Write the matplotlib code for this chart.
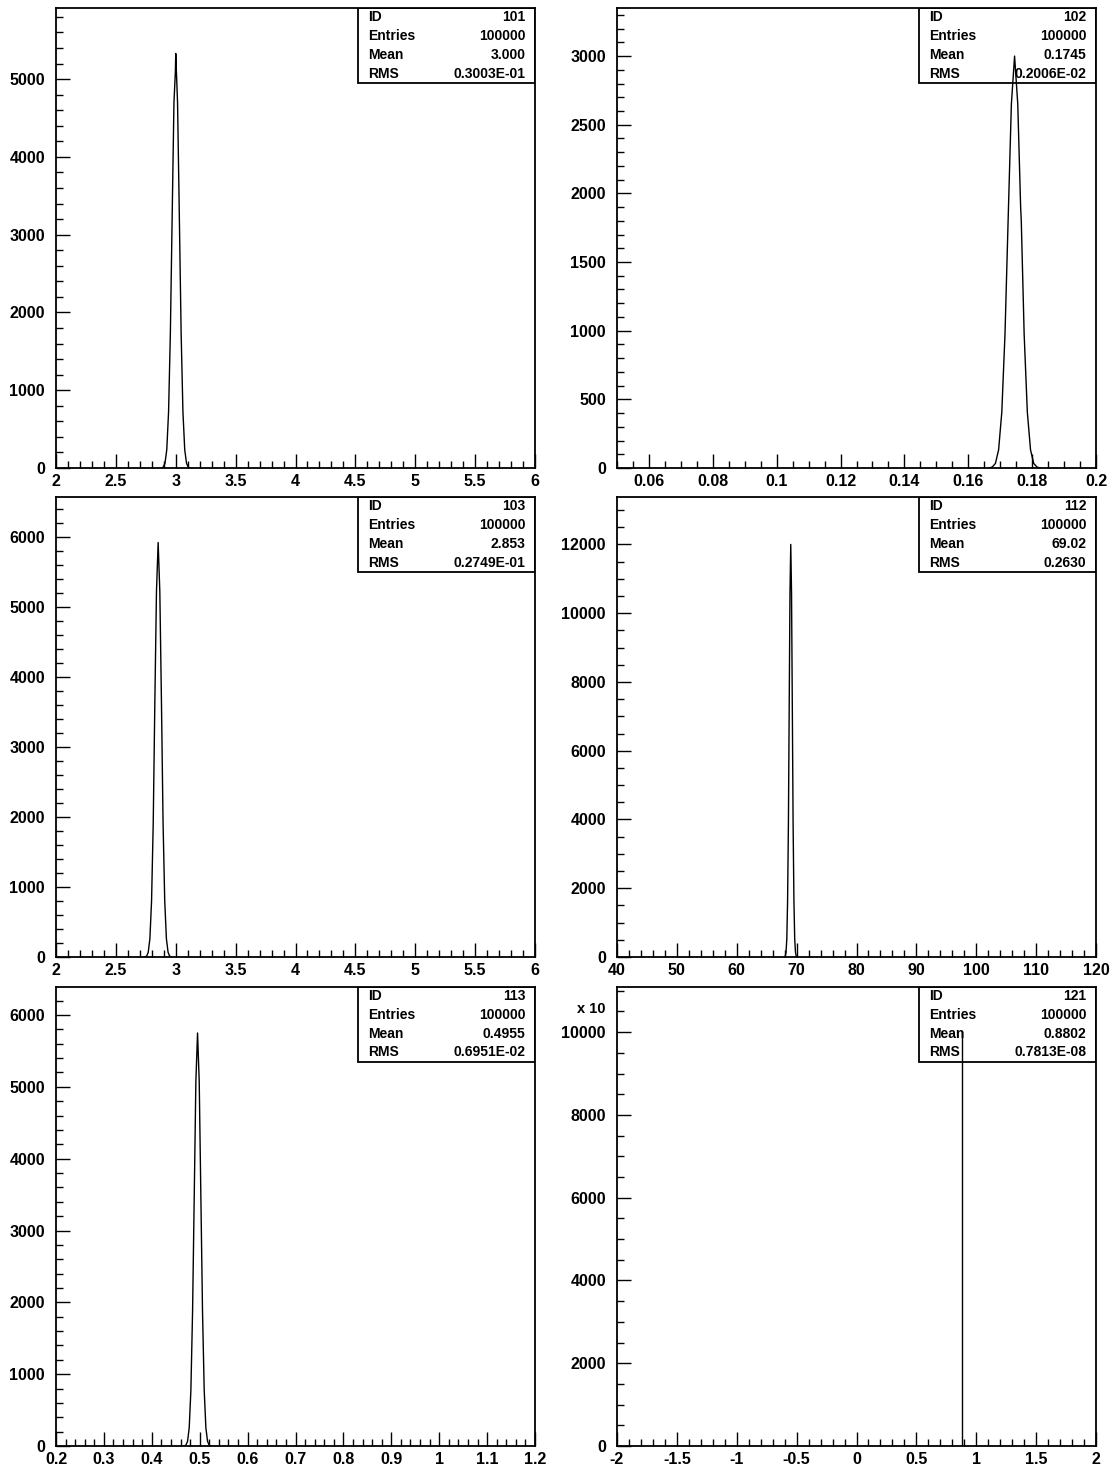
import numpy as np
import matplotlib
matplotlib.use("Agg")
import matplotlib.pyplot as plt
from matplotlib.ticker import MultipleLocator, FuncFormatter
from matplotlib.patches import Rectangle

plt.rcParams['font.family'] = ['Liberation Sans', 'DejaVu Sans']
plt.rcParams['font.weight'] = 'bold'

# ---- histogram contours (bin position, contents) ----
h101_x = [2.880, 2.895, 2.910, 2.925, 2.940, 2.955, 2.970, 2.985, 2.997, 3.000,
          3.003, 3.015, 3.030, 3.045, 3.060, 3.075, 3.090, 3.105, 3.120]
h101_y = [0, 10, 60, 235, 720, 1730, 3230, 4700, 5100, 5330,
          5200, 4700, 3230, 1730, 720, 235, 60, 10, 0]

h102_x = [0.1665, 0.1675, 0.1685, 0.1695, 0.1705, 0.1715, 0.1725, 0.1735, 0.1745,
          0.1755, 0.1764, 0.1766, 0.1775, 0.1785, 0.1795, 0.1805, 0.1815, 0.1825]
h102_y = [0, 7, 33, 132, 406, 974, 1820, 2650, 3000,
          2650, 1900, 1800, 974, 406, 132, 33, 7, 0]

h103_x = [2.743, 2.757, 2.770, 2.784, 2.798, 2.812, 2.825, 2.839, 2.853,
          2.867, 2.881, 2.894, 2.908, 2.922, 2.936, 2.949, 2.963]
h103_y = [0, 13, 66, 260, 800, 1920, 3590, 5220, 5920,
          5220, 3590, 1920, 800, 260, 66, 13, 0]

h112_x = [67.97, 68.10, 68.23, 68.36, 68.49, 68.63, 68.76, 68.89, 69.02,
          69.15, 69.28, 69.41, 69.55, 69.68, 69.81, 69.94, 70.07]
h112_y = [0, 26, 133, 527, 1620, 3900, 7280, 10590, 12000,
          10590, 7280, 3900, 1620, 527, 133, 26, 0]

h113_x = [0.4677, 0.4712, 0.4746, 0.4781, 0.4816, 0.4851, 0.4886, 0.4920, 0.4955,
          0.4990, 0.5024, 0.5059, 0.5094, 0.5129, 0.5164, 0.5198, 0.5233]
h113_y = [0, 13, 64, 252, 778, 1867, 3487, 5074, 5750,
          5074, 3487, 1867, 778, 252, 64, 13, 0]

h121_x = [0.8802, 0.8802]
h121_y = [0, 100000]
h121_scale = 10

# ---- statistics boxes ----
ids = ['101', '102', '103', '112', '113', '121']
entries = ['100000'] * 6
means = ['3.000', '0.1745', '2.853', '69.02', '0.4955', '0.8802']
rmss = ['0.3003E-01', '0.2006E-02', '0.2749E-01', '0.2630', '0.6951E-02', '0.7813E-08']

fig = plt.figure(figsize=(11.11, 14.68), dpi=100)
W, H = 1111.0, 1468.0

cols = [(56, 479), (617, 479)]
rows = [(8, 468), (497, 957), (987, 1446)]

# x range, x major, x minor, y top, y major, y minor
specs = [
    (2, 6, 0.5, 0.1, 5915, 1000, 200),
    (0.05, 0.2, 0.02, 0.005, 3350, 500, 100),
    (2, 6, 0.5, 0.1, 6570, 1000, 200),
    (40, 120, 10, 2, 13380, 2000, 500),
    (0.2, 1.2, 0.1, 0.02, 6390, 1000, 200),
    (-2, 2, 0.5, 0.1, 11090, 2000, 500),
]
data = [(h101_x, h101_y), (h102_x, h102_y), (h103_x, h103_y),
        (h112_x, h112_y), (h113_x, h113_y),
        (h121_x, [v / h121_scale for v in h121_y])]

fmt = FuncFormatter(lambda v, p: '%g' % round(v, 6))

for i in range(6):
    r, c = divmod(i, 2)
    left, width = cols[c]
    top, bot = rows[r]
    ax = fig.add_axes([left / W, 1 - bot / H, width / W, (bot - top) / H])
    x0, x1, xmaj, xmin, ytop, ymaj, ymin = specs[i]
    hx, hy = data[i]
    ax.plot(hx, hy, color='black', lw=1.0, zorder=3, clip_on=True)
    ax.set_xlim(x0, x1)
    ax.set_ylim(0, ytop)
    ax.xaxis.set_major_locator(MultipleLocator(xmaj))
    ax.xaxis.set_minor_locator(MultipleLocator(xmin))
    ax.yaxis.set_major_locator(MultipleLocator(ymaj))
    ax.yaxis.set_minor_locator(MultipleLocator(ymin))
    ax.xaxis.set_major_formatter(fmt)
    ax.yaxis.set_major_formatter(fmt)
    ax.tick_params(which='both', direction='in', top=False, right=False,
                   width=1, labelsize=11.5)
    ax.tick_params(which='major', length=10, pad=4)
    ax.tick_params(axis='y', which='major', pad=8)
    ax.tick_params(which='minor', length=5)
    for s in ax.spines.values():
        s.set_linewidth(1.3)

    # stats box
    bx, bw, bh = 0.63, 0.37, 0.163
    ax.add_patch(Rectangle((bx, 1 - bh), bw, bh, transform=ax.transAxes,
                           facecolor='white', edgecolor='black', lw=1.3, zorder=2))
    labels = ['ID', 'Entries', 'Mean', 'RMS']
    values = [ids[i], entries[i], means[i], rmss[i]]
    for k in range(4):
        yy = 1 - bh * (k + 0.5) / 4
        ax.text(bx + 0.022, yy, labels[k], transform=ax.transAxes, fontsize=10,
                va='center', ha='left', zorder=4)
        ax.text(0.98, yy, values[k], transform=ax.transAxes, fontsize=10,
                va='center', ha='right', zorder=4)

    if i == 5:
        ax.text(-0.023, 0.952, 'x 10', transform=ax.transAxes, fontsize=10.5,
                ha='right', va='center')

fig.savefig('out.png', dpi=100)
